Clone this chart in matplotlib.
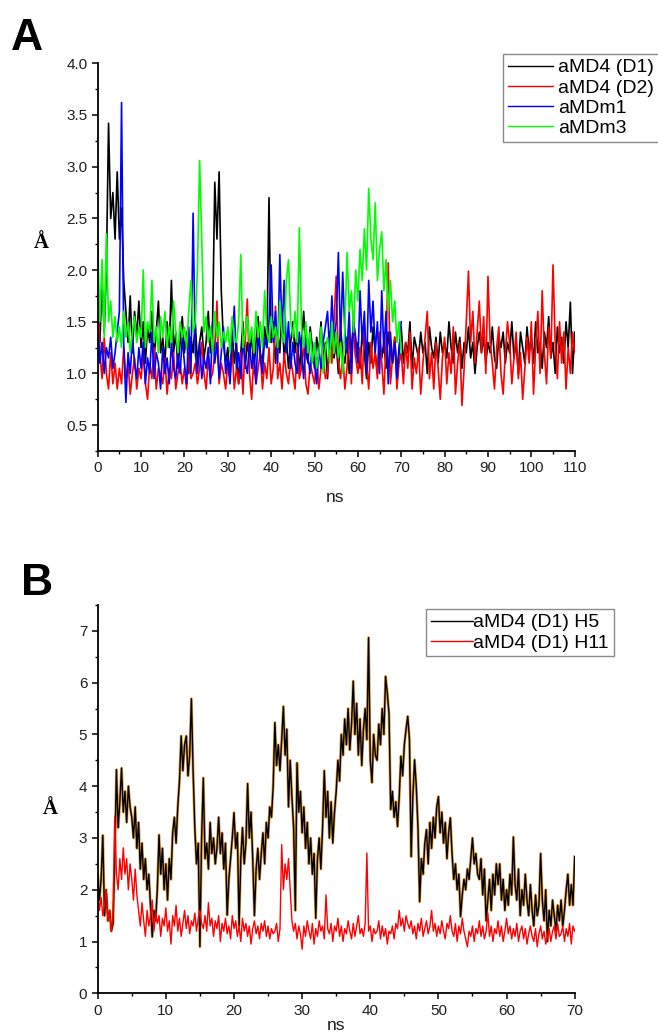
import numpy as np
import matplotlib
matplotlib.use("Agg")
import matplotlib.pyplot as plt
from matplotlib.ticker import MultipleLocator, FormatStrFormatter
from matplotlib.lines import Line2D

# ---------------- DATA ----------------
# Panel A: sampled every 0.5 ns
stepA = 0.5
a_md4_d1 = [
    1.6,1.3,1.9,1.4,2.0,3.42,2.5,2.75,2.3,2.95,
    2.3,2.6,1.9,1.6,1.3,1.75,1.2,1.6,1.35,1.7,
    1.25,1.5,1.1,1.45,1.3,1.6,1.15,1.4,1.7,1.2,
    1.35,1.1,1.5,1.25,1.9,1.2,1.4,1.05,1.3,1.55,
    1.2,1.4,1.0,1.35,1.2,1.5,1.1,1.3,1.45,1.15,
    1.3,1.6,1.2,1.5,2.85,2.3,2.95,1.8,1.3,1.1,
    1.25,0.95,1.4,1.1,1.3,0.9,1.2,1.5,1.05,1.3,
    1.15,1.4,1.0,1.3,1.55,1.2,1.1,1.45,1.25,2.7,
    1.3,1.5,1.1,1.4,1.2,1.6,1.15,1.35,1.05,1.3,
    1.5,1.2,1.4,1.0,1.3,1.6,1.2,1.1,1.45,1.25,
    1.05,1.35,1.2,1.5,1.1,1.3,0.95,1.4,1.2,1.15,
    1.3,1.0,1.45,1.2,1.1,1.35,1.0,1.25,1.5,1.15,
    1.3,1.05,1.4,1.2,0.95,1.3,1.1,1.45,1.2,1.0,
    1.35,1.15,1.3,1.05,1.4,1.2,1.1,1.35,1.0,1.25,
    1.45,1.1,1.3,1.2,1.5,1.05,1.35,1.25,1.15,1.4,
    1.2,1.3,1.0,1.45,1.25,1.15,1.35,1.1,1.4,1.2,
    1.3,1.15,1.5,1.25,1.1,1.4,1.2,1.35,1.05,1.3,
    1.2,1.45,1.15,1.3,1.0,1.25,1.4,1.2,1.35,1.1,
    1.3,1.2,1.45,1.15,1.05,1.35,1.25,1.4,1.1,1.3,
    1.2,1.5,1.15,1.3,1.0,1.4,1.25,1.1,1.45,1.2,
    1.35,1.1,1.5,1.2,1.3,1.05,1.4,1.25,1.55,1.15,
    1.3,1.0,1.45,1.2,1.35,1.1,1.5,1.25,1.69,1.0,
    1.4]
a_md4_d2 = [
    1.9,1.2,0.95,1.35,1.0,0.85,1.2,0.9,1.1,0.85,
    1.05,0.9,1.25,0.95,1.1,0.8,1.0,1.15,0.85,1.05,
    0.95,1.2,0.9,0.75,1.1,0.95,1.25,0.85,1.05,1.0,
    0.9,1.15,0.8,1.05,0.95,1.2,0.85,1.0,1.1,0.9,
    1.05,0.85,1.2,0.95,1.0,1.1,0.9,1.05,1.3,1.0,
    0.85,1.15,0.95,1.0,1.2,1.7,0.9,1.1,1.0,0.85,
    1.1,0.95,1.25,0.85,1.05,0.9,1.2,0.8,1.3,1.72,
    1.0,0.75,1.15,0.9,1.05,1.2,0.85,1.1,0.95,1.25,
    0.9,1.05,1.65,0.95,1.1,0.85,1.2,1.0,0.9,1.15,
    1.0,0.85,1.25,0.95,1.05,1.3,0.9,0.8,1.1,1.0,
    0.9,1.15,0.85,1.05,1.2,0.95,1.0,1.3,1.1,1.5,
    1.94,1.1,0.95,1.2,0.85,1.05,1.4,0.9,1.6,1.15,
    1.0,1.25,0.9,1.45,1.1,0.85,1.3,1.05,1.2,0.95,
    1.4,1.1,0.8,1.3,2.07,0.9,1.15,1.35,0.85,1.1,
    1.2,0.9,1.3,1.05,1.4,0.85,1.15,1.0,1.25,0.8,
    1.1,1.35,1.6,0.95,1.2,0.85,1.3,1.05,0.75,1.15,
    1.35,0.9,1.2,1.0,1.45,0.8,1.1,1.3,0.69,1.05,
    1.5,1.99,1.3,1.6,1.1,1.4,1.7,1.2,1.55,1.0,
    1.94,1.3,1.1,0.85,1.25,1.45,1.0,0.8,1.2,1.5,
    1.3,0.9,1.15,1.4,0.95,1.2,0.75,1.05,1.35,1.1,
    1.5,0.8,1.25,1.6,1.0,1.8,1.2,0.9,1.45,1.15,
    2.05,1.3,0.95,1.5,1.1,1.4,0.85,1.25,1.0,1.4,
    1.2]
a_mdm1 = [
    1.5,1.1,1.3,1.0,1.25,1.15,1.35,1.05,1.2,1.4,
    1.6,3.62,1.3,0.72,1.2,1.0,1.35,1.1,0.95,1.25,
    1.05,1.3,0.9,1.15,1.0,1.4,0.95,1.2,1.1,0.85,
    1.25,1.0,1.15,0.9,1.3,1.05,0.95,1.2,1.0,1.35,
    1.1,0.9,1.45,1.0,2.55,1.2,1.0,1.3,0.95,1.15,
    1.05,1.25,0.9,1.5,1.1,1.3,0.95,1.2,1.45,1.0,
    1.15,0.9,1.3,1.65,1.05,1.2,0.95,1.35,1.1,1.0,
    1.3,1.05,1.2,0.9,1.4,1.15,1.0,1.35,1.25,1.5,
    2.05,1.3,1.6,1.1,2.15,1.4,1.9,1.2,1.5,1.05,
    1.3,1.1,1.0,1.4,1.2,0.95,1.35,1.15,1.0,1.3,
    1.1,0.9,1.25,1.05,1.3,1.45,1.6,1.2,1.75,1.3,
    1.5,2.17,1.3,1.98,1.4,1.2,1.6,1.0,1.5,1.35,
    1.1,1.8,1.3,1.6,1.0,1.9,1.4,1.7,1.2,1.5,
    1.0,1.8,1.2,1.6,0.9,1.4,1.1,1.3,0.95,1.2,
    1.5]
a_mdm3 = [
    2.25,1.5,2.1,1.35,2.35,1.5,1.7,1.35,1.55,1.3,
    1.45,1.25,1.6,1.35,1.5,1.2,1.4,1.55,1.3,1.45,
    1.35,2.0,1.25,1.5,1.4,1.9,1.3,1.45,1.2,1.55,
    1.35,1.6,1.25,1.45,1.3,1.7,1.4,1.2,1.5,1.35,
    1.45,1.25,1.6,1.9,1.4,1.5,2.0,3.06,2.3,1.4,
    1.55,1.3,1.45,1.2,1.6,1.35,1.5,1.25,1.4,1.3,
    1.45,1.2,1.55,1.35,1.3,1.5,2.15,1.25,1.4,1.55,
    1.3,1.45,1.2,1.6,1.35,1.5,1.25,1.8,1.4,1.3,
    1.55,1.35,1.45,1.25,1.7,1.4,1.3,1.9,2.1,1.5,
    1.35,1.6,1.3,2.41,1.45,1.25,1.5,1.2,1.4,1.1,
    1.3,1.05,1.2,1.45,1.0,1.25,1.35,1.1,1.5,1.2,
    1.4,1.15,1.3,1.0,1.45,2.17,1.6,1.8,1.4,2.0,
    1.7,2.2,1.9,2.4,2.0,2.79,2.3,2.1,2.65,1.9,
    2.2,2.37,1.8,2.1,1.6,1.9,1.5,1.7,1.3,1.5,
    1.2]

# Panel B: sampled every 0.25 ns
stepB = 0.25
b_h5 = [
    2.3,1.8,2.2,3.05, 1.5,2.0,1.4,1.6, 1.2,1.35,2.6,4.32, 3.2,3.7,4.35,3.5,
    3.9,3.3,4.0,3.6, 3.4,3.0,3.6,2.8, 3.3,2.4,2.9,2.2, 2.6,2.0,2.3,1.7,
    1.09,1.6,1.4,2.0, 3.06,2.3,2.8,2.0, 2.5,1.8,2.6,2.2, 3.1,3.4,2.9,3.6,
    4.1,4.97,4.3,4.8, 4.97,4.2,4.6,5.69, 4.3,3.2,2.5,2.9, 0.9,3.0,4.16,2.6,
    2.9,2.4,3.3,2.7, 3.0,2.5,2.8,3.4, 2.7,3.1,2.4,2.9, 1.51,2.2,2.6,3.0,
    3.49,2.8,3.1,1.3, 2.6,3.2,2.5,2.9, 4.05,3.0,3.5,2.6, 1.5,2.4,2.8,2.2,
    2.7,3.1,2.5,3.3, 3.0,3.6,3.4,4.0, 5.23,4.4,4.8,4.3, 4.9,5.54,4.6,5.1,
    3.6,4.5,3.8,3.2, 1.6,4.45,3.5,3.9, 3.1,3.6,2.8,3.3, 2.5,3.0,2.3,2.7,
    1.45,2.6,3.0,2.4, 3.2,4.3,3.4,3.9, 3.0,3.7,2.9,3.5, 3.9,4.5,4.1,5.0,
    4.6,5.3,4.8,5.5, 4.7,5.2,6.03,5.0, 5.6,4.6,5.3,4.4, 5.1,5.5,4.9,6.87,
    4.5,4.07,5.0,4.6, 4.5,5.2,4.8,5.5, 5.0,6.12,5.8,5.4, 3.55,3.9,3.4,3.7,
    3.22,3.8,4.58,4.2, 4.8,5.1,5.35,4.9, 2.64,3.8,4.51,4.0, 3.2,1.77,2.6,2.3,
    2.9,3.16,2.5,3.3, 2.8,3.4,3.0,3.6, 3.8,3.1,3.5,2.9, 3.3,2.6,3.1,3.39,
    2.7,2.2,2.5,2.0, 2.3,1.48,1.9,2.2, 2.0,2.4,2.2,2.6, 3.0,2.5,2.7,2.3,
    2.2,2.6,1.9,2.4, 1.4,1.8,2.2,1.6, 2.3,1.9,2.5,2.1, 2.5,1.8,2.2,1.6,
    2.0,1.7,2.3,1.9, 3.02,2.1,1.8,2.4, 1.5,2.0,1.7,2.3, 1.8,1.5,2.1,1.6,
    1.3,1.9,1.5,1.7, 2.7,1.8,1.4,2.0, 1.0,1.6,1.3,1.8, 1.5,1.2,1.7,1.4,
    1.8,1.3,1.6,2.0, 2.3,1.7,2.1,1.7,
    2.64]
b_h11 = [
    2.0,1.6,1.85,1.5, 1.7,2.0,1.4,1.6, 1.2,1.5,3.42,2.3, 2.0,2.6,2.2,2.81,
    2.3,2.6,2.0,2.5, 2.2,1.8,2.4,1.9, 1.6,1.3,1.75,1.4, 1.1,1.6,1.3,1.5,
    1.8,1.2,1.55,1.35, 1.5,1.1,1.45,1.3, 1.65,1.2,1.4,0.95, 1.5,1.3,1.7,1.2,
    1.45,1.1,1.35,1.6, 1.25,1.5,1.15,1.4, 1.3,1.55,1.2,1.45, 1.6,1.35,1.25,1.5,
    1.2,1.75,1.3,1.45, 1.1,1.4,1.25,1.5, 1.0,1.35,1.2,1.45, 1.15,1.3,1.05,1.5,
    1.25,1.4,1.1,1.3, 1.0,1.45,1.2,1.35, 1.1,1.3,0.95,1.25, 1.4,1.15,1.3,1.05,
    1.35,1.2,1.4,1.1, 1.3,1.05,1.25,1.15, 1.2,1.35,1.0,1.25, 2.87,2.0,2.5,2.2,
    2.6,2.0,1.4,1.2, 1.35,1.05,1.3,1.15, 0.85,1.3,1.1,1.4, 1.2,1.05,1.35,0.95,
    1.25,1.1,1.4,1.2, 1.3,1.05,1.9,1.25, 1.15,1.35,1.0,1.3, 1.2,1.45,1.1,1.3,
    1.0,1.25,1.15,1.4, 1.2,1.05,1.35,1.1, 1.3,1.5,1.15,1.25, 1.1,1.35,2.71,1.2,
    1.3,1.0,1.25,1.15, 1.2,1.4,1.05,1.3, 1.1,1.25,0.95,1.2, 1.15,1.3,1.05,1.35,
    1.25,1.6,1.3,1.45, 1.2,1.5,1.35,1.25, 1.4,1.15,1.3,1.05, 1.35,1.2,1.45,1.1,
    1.25,1.4,1.15,1.3, 1.6,1.2,1.35,1.1, 1.3,1.15,1.4,1.2, 1.05,1.35,1.25,1.5,
    1.2,1.1,1.35,1.0, 1.3,1.15,1.45,1.2, 1.05,0.9,1.2,1.1, 1.3,1.0,1.25,1.15,
    1.4,1.1,1.3,1.05, 1.2,1.55,1.1,1.3, 1.0,1.25,1.15,1.4, 1.1,1.3,1.0,1.2,
    1.45,1.15,1.3,1.05, 1.25,1.1,1.35,1.0, 1.2,1.3,1.05,1.25, 0.95,1.15,1.3,1.1,
    1.0,1.25,0.9,1.15, 1.3,1.05,1.2,0.95, 1.1,1.25,1.0,1.2, 1.3,1.05,1.35,1.1,
    1.15,1.3,1.0,1.25, 1.1,1.35,0.95,1.3,
    1.2]

labels_A = ["aMD4 (D1)", "aMD4 (D2)", "aMDm1", "aMDm3"]
labels_B = ["aMD4 (D1) H5", "aMD4 (D1) H11"]

assert len(a_md4_d1) == 221 and len(a_md4_d2) == 221
assert len(a_mdm1) == 141 and len(a_mdm3) == 141
assert len(b_h5) == 281 and len(b_h11) == 281

# ---------------- FIGURE ----------------
W, H = 658, 1034
fig = plt.figure(figsize=(W / 100, H / 100), dpi=100)

def ax_rect(x0, y0, x1, y1):
    return [x0 / W, 1 - y1 / H, (x1 - x0) / W, (y1 - y0) / H]

axA = fig.add_axes(ax_rect(97.7, 63.3, 574.7, 451))
axB = fig.add_axes(ax_rect(97.7, 605, 574.7, 993.3))

def style(ax):
    for s in ["top", "right"]:
        ax.spines[s].set_visible(False)
    for s in ["left", "bottom"]:
        ax.spines[s].set_linewidth(1.3)
    ax.tick_params(which="major", direction="out", length=4, width=1.1,
                   labelsize=11, labelcolor="#1e1e1e")
    ax.tick_params(which="minor", direction="out", length=2.5, width=1.0)
    for lab in ax.get_xticklabels() + ax.get_yticklabels():
        lab.set_family("Liberation Sans")

# Panel A
tA1 = np.arange(len(a_md4_d1)) * stepA
tA2 = np.arange(len(a_md4_d2)) * stepA
tA3 = np.arange(len(a_mdm1)) * stepA
tA4 = np.arange(len(a_mdm3)) * stepA
lw = 1.2
axA.plot(tA1, a_md4_d1, color="black", lw=lw, label=labels_A[0])
axA.plot(tA2, a_md4_d2, color="#ff0000", lw=lw, label=labels_A[1])
axA.plot(tA3, a_mdm1, color="#0000ff", lw=lw, label=labels_A[2])
axA.plot(tA4, a_mdm3, color="#00ff00", lw=lw, label=labels_A[3])
axA.set_xlim(0, 110)
axA.set_ylim(0.25, 4.0)
axA.xaxis.set_major_locator(MultipleLocator(10))
axA.xaxis.set_minor_locator(MultipleLocator(5))
axA.yaxis.set_major_locator(MultipleLocator(0.5))
axA.yaxis.set_minor_locator(MultipleLocator(0.25))
axA.yaxis.set_major_formatter(FormatStrFormatter("%.1f"))
style(axA)

handlesA = [Line2D([], [], color=c, lw=1.0) for c in ["black", "#ff0000", "#0000ff", "#00ff00"]]
legA = axA.legend(handlesA, labels_A, loc="upper left",
                  bbox_to_anchor=(503 / W, 1 - 54 / H),
                  bbox_transform=fig.transFigure, frameon=True, fancybox=False,
                  edgecolor="#8a8a8a", framealpha=1, borderpad=0.25,
                  labelspacing=0.13, handlelength=2.3, handletextpad=0.3,
                  borderaxespad=0, prop=dict(family="Liberation Sans", size=14))
legA.get_frame().set_linewidth(1.0)

# Panel B
tB1 = np.arange(len(b_h5)) * stepB
tB2 = np.arange(len(b_h11)) * stepB
axB.plot(tB1, b_h5, color="#d9891f", lw=2.0, alpha=0.85)
axB.plot(tB1, b_h5, color="black", lw=1.0)
axB.plot(tB2, b_h11, color="#ff0000", lw=1.0)
axB.set_xlim(0, 70)
axB.set_ylim(0, 7.5)
axB.xaxis.set_major_locator(MultipleLocator(10))
axB.xaxis.set_minor_locator(MultipleLocator(5))
axB.yaxis.set_major_locator(MultipleLocator(1))
axB.yaxis.set_minor_locator(MultipleLocator(0.5))
style(axB)

handlesB = [Line2D([], [], color="black", lw=1.0), Line2D([], [], color="#ff0000", lw=1.0)]
legB = axB.legend(handlesB, labels_B, loc="upper left",
                  bbox_to_anchor=(425.7 / W, 1 - 609 / H),
                  bbox_transform=fig.transFigure, frameon=True, fancybox=False,
                  edgecolor="#8a8a8a", framealpha=1, borderpad=0.25,
                  labelspacing=0.13, handlelength=2.2, handletextpad=0.0,
                  borderaxespad=0, prop=dict(family="Liberation Sans", size=14))
legB.get_frame().set_linewidth(1.0)

# Axis labels
fig.text(335 / W, 1 - 498 / H, "ns", ha="center", va="center",
         family="Liberation Sans", size=12.5, color="#1e1e1e")
fig.text(336 / W, 1 - 1033 / H, "ns", ha="center", va="bottom",
         family="Liberation Sans", size=12.5, color="#1e1e1e")
fig.text(41 / W, 1 - 243 / H, "Å", ha="center", va="center",
         family="Liberation Serif", weight="bold", size=15)
fig.text(50 / W, 1 - 809 / H, "Å", ha="center", va="center",
         family="Liberation Serif", weight="bold", size=15)

# Panel letters
fig.text(11 / W, 1 - 50 / H, "A", ha="left", va="baseline",
         family="Liberation Sans", weight="bold", size=32)
fig.text(21 / W, 1 - 595 / H, "B", ha="left", va="baseline",
         family="Liberation Sans", weight="bold", size=32)

fig.savefig("out.png", dpi=100)
